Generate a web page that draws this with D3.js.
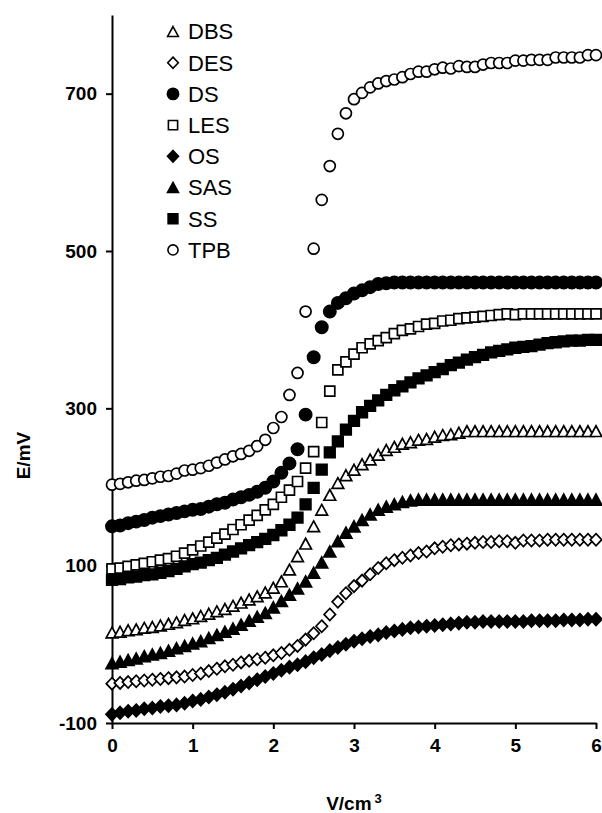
<!DOCTYPE html>
<html>
<head>
<meta charset="utf-8">
<script src="https://cdn.jsdelivr.net/npm/d3@7"></script>
<style>
body { margin: 0; background: #fff; }
svg { display: block; font-family: "Liberation Sans", Arial, sans-serif; }
</style>
</head>
<body>
<div id="chart"></div>
<script>
// added volume, cm3
var volume = [0,0.1,0.2,0.3,0.4,0.5,0.6,0.7,0.8,0.9,
  1,1.1,1.2,1.3,1.4,1.5,1.6,1.7,1.8,1.9,
  2,2.1,2.2,2.3,2.4,2.5,2.6,2.7,2.8,2.9,
  3,3.1,3.2,3.3,3.4,3.5,3.6,3.7,3.8,3.9,
  4,4.1,4.2,4.3,4.4,4.5,4.6,4.7,4.8,4.9,
  5,5.1,5.2,5.3,5.4,5.5,5.6,5.7,5.8,5.9,
  6];

// potential E/mV per titrant
var DBS = [15,16,18,19,21,22,24,26,28,31,
  33,36,39,42,45,49,53,57,61,66,
  72,80,95,112,128,150,171,190,205,215,
  222,229,235,241,247,251,255,257,260,261,
  264,266,267,269,271,271,271,271,271,271,
  271,271,271,271,271,271,271,271,271,271,
  271];
var DES = [-50,-49,-48,-47,-46,-45,-44,-43,-42,-41,
  -39,-37,-34,-31,-28,-26,-23,-21,-19,-17,
  -14,-11,-7,-2,6,14,23,38,54,65,
  74,81,89,97,103,107,110,113,116,118,
  122,124,126,127,128,129,130,130,131,131,
  129,132,132,132,133,133,133,133,133,133,
  133];
var DS = [150,151,154,156,158,161,163,165,167,169,
  171,172,175,178,180,184,187,190,194,199,
  207,218,230,248,292,365,403,423,434,440,
  446,450,454,458,459,460,460,460,460,460,
  460,460,460,460,460,460,460,460,460,460,
  460,460,460,460,460,460,460,460,460,460,
  460];
var LES = [96,97,99,101,103,105,107,109,112,116,
  120,125,130,135,140,146,152,158,164,171,
  178,187,196,207,224,245,282,322,349,359,
  369,377,382,386,390,395,399,401,404,407,
  408,411,412,414,415,416,417,418,419,420,
  419,420,420,420,420,420,420,420,420,420,
  420];
var OS = [-89,-87,-85,-84,-82,-81,-79,-78,-77,-75,
  -72,-70,-67,-64,-61,-57,-53,-49,-45,-41,
  -37,-33,-29,-26,-22,-17,-13,-8,-4,0,
  4,7,10,12,15,17,19,21,22,23,
  24,25,26,27,28,28,29,29,29,29,
  29,29,30,30,30,30,31,31,31,32,
  32];
var SAS = [-24,-22,-20,-18,-15,-13,-11,-8,-5,-2,
  1,4,8,12,16,20,25,30,35,40,
  47,55,63,71,80,91,104,118,131,142,
  150,158,165,171,175,178,181,183,184,184,
  184,184,184,184,184,184,184,184,184,184,
  184,184,184,184,184,184,184,184,184,184,
  184];
var SS = [82,83,85,86,88,89,91,93,96,99,
  102,104,107,110,114,118,122,126,130,134,
  139,145,152,161,178,199,222,244,258,273,
  284,295,303,310,317,323,328,333,338,342,
  346,350,355,358,362,365,368,371,373,375,
  377,378,379,381,383,384,385,386,386,387,
  387];
var TPB = [203,204,206,208,209,211,213,214,217,221,
  222,224,227,231,235,239,242,246,252,260,
  275,289,317,345,423,503,565,608,649,675,
  693,701,708,713,716,718,721,725,728,728,
  731,733,732,735,734,734,737,739,739,739,
  742,742,743,743,743,746,746,746,746,749,
  749];

var yTicks = [-100, 100, 300, 500, 700];
var xTicks = [0, 1, 2, 3, 4, 5, 6];

// custom marker shapes
var diamond = { draw: function(ctx, size) {
  var r = Math.sqrt(size / 2);
  ctx.moveTo(0, -r * 1.05); ctx.lineTo(r, 0); ctx.lineTo(0, r * 1.05); ctx.lineTo(-r, 0); ctx.closePath();
}};
var triangle = { draw: function(ctx, size) {
  var w = Math.sqrt(size * 2.2), h = w * 0.92;
  ctx.moveTo(0, -h / 2); ctx.lineTo(w / 2, h / 2); ctx.lineTo(-w / 2, h / 2); ctx.closePath();
}};

var series = [
  {name: "DBS", values: DBS, shape: triangle, size: 62, filled: false},
  {name: "DES", values: DES, shape: diamond, size: 66, filled: false},
  {name: "DS", values: DS, shape: d3.symbolCircle, size: 118, filled: true},
  {name: "LES", values: LES, shape: d3.symbolSquare, size: 100, filled: false},
  {name: "OS", values: OS, shape: diamond, size: 72, filled: true},
  {name: "SAS", values: SAS, shape: triangle, size: 64, filled: true},
  {name: "SS", values: SS, shape: d3.symbolSquare, size: 112, filled: true},
  {name: "TPB", values: TPB, shape: d3.symbolCircle, size: 95, filled: false}
];

var margin = {top: 15, right: 6, bottom: 90, left: 112},
    width = 602 - margin.left - margin.right,
    height = 813 - margin.top - margin.bottom;

var svg = d3.select("#chart")
  .append("svg")
    .attr("width", 602)
    .attr("height", 813)
  .append("g")
    .attr("transform", "translate(" + margin.left + "," + margin.top + ")");

var x = d3.scaleLinear().domain([0, 6]).range([0, width]);
var y = d3.scaleLinear().domain([-100, 800]).range([height, 0]);

var plain = function(d) { return String(d); };

// axes
svg.append("g")
  .attr("transform", "translate(0," + height + ")")
  .call(d3.axisBottom(x).tickValues(xTicks).tickFormat(plain).tickSize(6).tickSizeOuter(0).tickPadding(10));
svg.append("g")
  .call(d3.axisLeft(y).tickValues(yTicks).tickFormat(plain).tickSize(6).tickSizeOuter(0).tickPadding(9));

svg.selectAll(".domain, .tick line").attr("stroke", "#000").attr("stroke-width", 2);
svg.selectAll(".tick text")
  .attr("font-family", "Liberation Sans, Arial, sans-serif")
  .attr("font-size", 19)
  .attr("font-weight", "bold")
  .attr("fill", "#000");

// axis titles
svg.append("text")
  .attr("transform", "translate(-82," + y(240) + ") rotate(-90)")
  .attr("text-anchor", "middle")
  .attr("font-size", 19)
  .attr("font-weight", "bold")
  .text("E/mV");

var xt = svg.append("text")
  .attr("x", width / 2)
  .attr("y", height + 87)
  .attr("text-anchor", "middle")
  .attr("font-size", 19)
  .attr("font-weight", "bold");
xt.append("tspan").text("V/cm");
xt.append("tspan").attr("dx", 3).attr("dy", -7).attr("font-size", 13).text("3");

// markers
series.forEach(function(s) {
  svg.append("g")
    .selectAll("path")
    .data(s.values.map(function(v, i) { return {x: volume[i], y: v}; }))
    .enter().append("path")
      .attr("d", d3.symbol().type(s.shape).size(s.size))
      .attr("transform", function(d) { return "translate(" + x(d.x) + "," + y(d.y) + ")"; })
      .attr("fill", s.filled ? "#000" : "#fff")
      .attr("stroke", "#000")
      .attr("stroke-width", 1.7);
});

// legend
var legend = svg.selectAll(".legend")
  .data(series)
  .enter().append("g")
  .attr("class", "legend")
  .attr("transform", function(d, i) { return "translate(61," + (16.5 + i * 31.2) + ")"; });

legend.append("path")
  .attr("d", function(d) { return d3.symbol().type(d.shape).size(d.size * 0.85)(); })
  .attr("fill", function(d) { return d.filled ? "#000" : "#fff"; })
  .attr("stroke", "#000")
  .attr("stroke-width", 1.6);

legend.append("text")
  .attr("x", 15)
  .attr("dy", "0.36em")
  .attr("font-size", 22)
  .text(function(d) { return d.name; });
</script>
</body>
</html>
